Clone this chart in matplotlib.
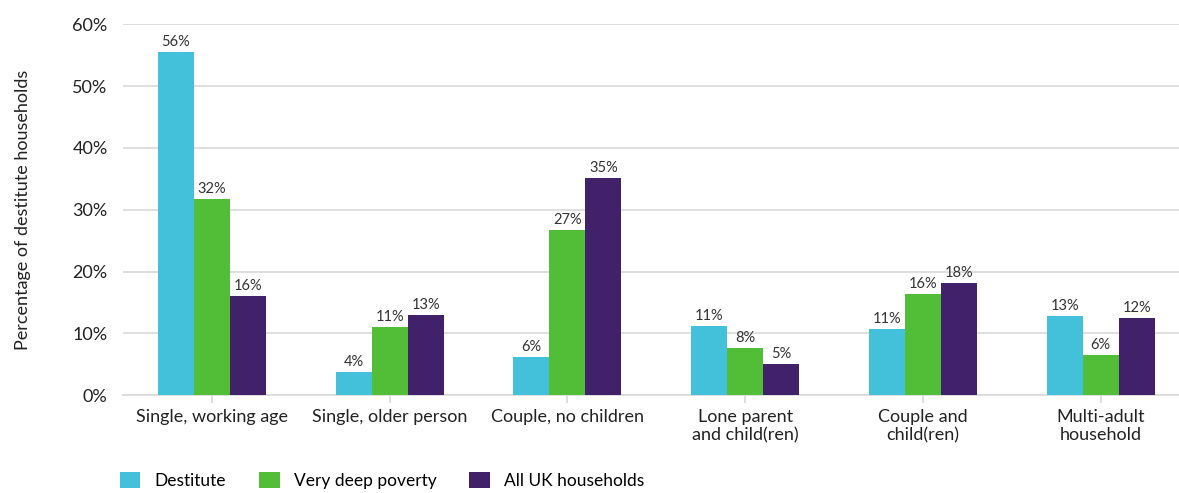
import matplotlib.pyplot as plt
import numpy as np

plt.rcParams['font.family'] = ['Lato', 'DejaVu Sans']

# Data
categories = ['Single, working age', 'Single, older person', 'Couple, no children',
              'Lone parent\nand child(ren)', 'Couple and\nchild(ren)', 'Multi-adult\nhousehold']
destitute = [55.6, 3.7, 6.15, 11.2, 10.7, 12.8]
very_deep = [31.7, 11.0, 26.7, 7.6, 16.3, 6.4]
all_uk = [16.0, 13.0, 35.1, 5.0, 18.1, 12.4]
series_names = ['Destitute', 'Very deep poverty', 'All UK households']
colors = ['#43C1DA', '#52BE38', '#40216A']

fig = plt.figure(figsize=(11.79, 4.93), dpi=100)
ax = fig.add_axes([123 / 1179, 98 / 493, (1179 - 123) / 1179, (395 - 24.5) / 493])

x = np.arange(len(categories))
width = 0.2025
for i, (vals, name, c) in enumerate(zip([destitute, very_deep, all_uk], series_names, colors)):
    bars = ax.bar(x + (i - 1) * width, vals, width, color=c, label=name, zorder=3)
    for b, v in zip(bars, vals):
        ax.text(b.get_x() + b.get_width() / 2, v + 0.5, f'{v:.0f}%',
                ha='center', va='bottom', fontsize=10.5, color='#333333')

ax.set_xlim(-0.5, 5.44)
ax.set_ylim(0, 60)
ax.set_yticks(range(0, 61, 10))
ax.set_yticklabels([f'{t}%' for t in range(0, 61, 10)])
ax.set_xticks(x)
ax.set_xticklabels(categories)
ax.grid(axis='y', color='#D9D9D9', linewidth=1.2, zorder=0)
for s in ['top', 'right', 'left']:
    ax.spines[s].set_visible(False)
ax.spines['bottom'].set_color('#D9D9D9')
ax.spines['bottom'].set_linewidth(1.2)
ax.tick_params(axis='y', length=0, pad=11, labelsize=13, labelcolor='#222222')
ax.tick_params(axis='x', length=6, width=1.2, color='#D9D9D9', pad=4,
               labelsize=13, labelcolor='#222222')
ax.set_ylabel('Percentage of destitute households', fontsize=13, color='#222222', labelpad=30)

fig.legend(loc='upper left', bbox_to_anchor=(104 / 1179, 1 - 456 / 493), ncol=3,
           frameon=False, fontsize=12.5, handlelength=1.2, handleheight=1.1,
           handletextpad=0.8, columnspacing=1.9)

plt.savefig('out.png', dpi=100)
